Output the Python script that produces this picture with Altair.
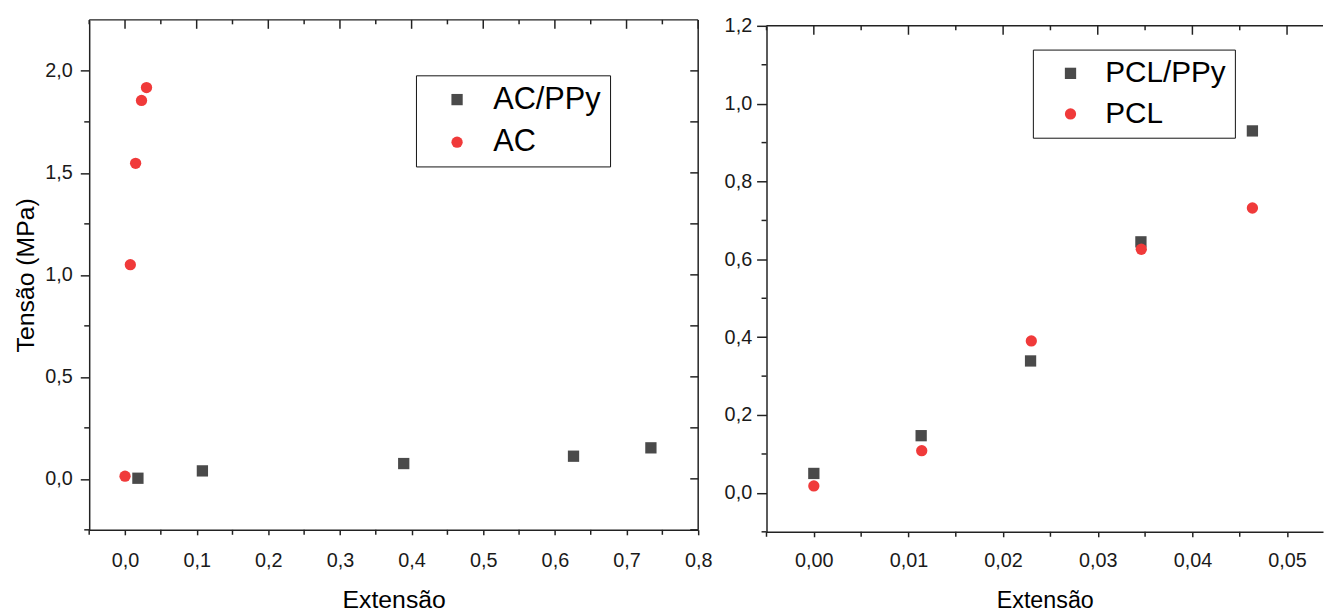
import altair as alt
import pandas as pd

# ---------------- data ----------------
ac_ppy_x = [0.018, 0.108, 0.389, 0.626, 0.734]
ac_ppy_y = [0.003, 0.039, 0.075, 0.111, 0.152]
ac_x = [0.0, 0.0074, 0.0148, 0.023, 0.030]
ac_y = [0.013, 1.050, 1.547, 1.855, 1.918]

pcl_ppy_x = [0.0, 0.01134, 0.0229, 0.03456, 0.04634]
pcl_ppy_y = [0.050, 0.147, 0.339, 0.645, 0.930]
pcl_x = [0.0, 0.0114, 0.02298, 0.0346, 0.04634]
pcl_y = [0.018, 0.1085, 0.3905, 0.626, 0.732]

left_series = ["AC/PPy", "AC"]
right_series = ["PCL/PPy", "PCL"]

left_x_major = [0.0, 0.1, 0.2, 0.3, 0.4, 0.5, 0.6, 0.7, 0.8]
left_x_minor = [-0.05, 0.05, 0.15, 0.25, 0.35, 0.45, 0.55, 0.65, 0.75]
left_y_major = [0.0, 0.5, 1.0, 1.5, 2.0]
left_y_minor = [-0.25, 0.25, 0.75, 1.25, 1.75]

right_x_major = [0.0, 0.01, 0.02, 0.03, 0.04, 0.05]
right_x_minor = [-0.005, 0.005, 0.015, 0.025, 0.035, 0.045]
right_y_major = [0.0, 0.2, 0.4, 0.6, 0.8, 1.0, 1.2]
right_y_minor = [-0.1, 0.1, 0.3, 0.5, 0.7, 0.9, 1.1]

GRAY = "#4a4a4a"
RED = "#f03a3a"
LINE = "#222222"
FONT = "Liberation Sans"


def comma(fmt):
    return f"replace(format(datum.value, '{fmt}'), '.', ',')"


def panel(xs, ys, names, order, xdom, ydom, xmaj, xmin, ymaj, ymin,
          xfmt, yfmt, W, H, top, ytitle, xtitle_size, ytick, ypad, xpad, xtpad,
          leg_x, leg_y, leg_font, sym_off, lab_off, right_frame):
    rows = []
    for sx, sy, nm in zip(xs, ys, names):
        for a, b in zip(sx, sy):
            rows.append({"x": a, "y": b, "s": nm})
    df = pd.DataFrame(rows)

    xscale = alt.Scale(domain=xdom, nice=False, zero=False)
    yscale = alt.Scale(domain=ydom, nice=False, zero=False, range=[H, top])

    leg = dict(title=None, orient="none", legendX=leg_x, legendY=leg_y,
               strokeColor="#111111", padding=9, labelFont=FONT,
               labelFontSize=leg_font, labelColor="#000000", symbolSize=130,
               symbolStrokeWidth=0, symbolOffset=sym_off,
               labelOffset=lab_off, rowPadding=11, symbolOpacity=1)

    yaxis_kwargs = dict(values=ymaj, labelExpr=comma(yfmt), tickSize=ytick,
                        labelPadding=ypad, grid=False, titleFontSize=25,
                        titlePadding=6.5)
    ych = alt.Y("y:Q", scale=yscale, axis=alt.Axis(**yaxis_kwargs),
                title=ytitle) if ytitle else alt.Y(
        "y:Q", scale=yscale, axis=alt.Axis(**yaxis_kwargs), title=None)

    pts = alt.Chart(df).mark_point(filled=True, size=130, opacity=1).encode(
        x=alt.X("x:Q", scale=xscale, title="Extensão",
                axis=alt.Axis(values=xmaj, labelExpr=comma(xfmt), tickSize=5,
                              labelPadding=xpad, grid=False,
                              titleFontSize=xtitle_size, titlePadding=xtpad)),
        y=ych,
        color=alt.Color("s:N", scale=alt.Scale(domain=order, range=[GRAY, RED]),
                        legend=alt.Legend(**leg)),
        shape=alt.Shape("s:N", scale=alt.Scale(domain=order,
                                               range=["square", "circle"]),
                        legend=alt.Legend(**leg)),
    )

    layers = [pts]
    one = pd.DataFrame({"a": [0]})
    # top frame line
    layers.append(alt.Chart(one).mark_rule(color=LINE, strokeWidth=1.5).encode(
        x=alt.value(0), x2=alt.value(W), y=alt.value(top)))
    if right_frame:
        layers.append(alt.Chart(one).mark_rule(color=LINE, strokeWidth=1.5).encode(
            x=alt.value(W), y=alt.value(top), y2=alt.value(H)))

    dxmaj = pd.DataFrame({"x": xmaj})
    dxmin = pd.DataFrame({"x": xmin})
    dymaj = pd.DataFrame({"y": ymaj})
    dymin = pd.DataFrame({"y": ymin})

    def xr(d, y1, y2):
        return alt.Chart(d).mark_rule(color=LINE, strokeWidth=1.5).encode(
            x=alt.X("x:Q", scale=xscale), y=alt.value(y1), y2=alt.value(y2))

    def yr(d, x1, x2):
        return alt.Chart(d).mark_rule(color=LINE, strokeWidth=1.5).encode(
            y=alt.Y("y:Q", scale=yscale), x=alt.value(x1), x2=alt.value(x2))

    # inward top ticks
    layers.append(xr(dxmaj, top, top + 9))
    layers.append(xr(dxmin, top, top + 4.5))
    # outward bottom minor ticks
    layers.append(xr(dxmin, H, H + 5))
    # outward left minor ticks
    layers.append(yr(dymin, 0, -5))
    if right_frame:
        layers.append(yr(dymaj, W, W - 8))
        layers.append(yr(dymin, W, W - 8))

    return alt.layer(*layers).properties(width=W, height=H)


left = panel([ac_ppy_x, ac_x], [ac_ppy_y, ac_y], left_series, left_series,
             [-0.05, 0.8], [-0.25, 2.25], left_x_major, left_x_minor,
             left_y_major, left_y_minor, ".1f", ".1f", 615, 515, 0,
             "Tensão (MPa)", 25, 9, 8, 16, 17, 330, 56, 31, 17, 21, True)

right = panel([pcl_ppy_x, pcl_x], [pcl_ppy_y, pcl_y], right_series, right_series,
              [-0.005, 0.0538], [-0.1, 1.2], right_x_major, right_x_minor,
              right_y_major, right_y_minor, ".2f", ".1f", 562, 517, 6,
              None, 23.5, 10, 5, 14, 18, 269, 30, 30, 14, 20, False)

chart = alt.hconcat(left, right, spacing=12).resolve_scale(
    color="independent", shape="independent", x="independent", y="independent"
).resolve_legend(color="independent", shape="independent").properties(
    padding={"left": 5, "top": 5, "right": 0, "bottom": 0},
    background="white",
).configure_view(strokeWidth=0).configure_axis(
    domainColor=LINE, domainWidth=1.5, tickColor=LINE, tickWidth=1.5,
    labelFont=FONT, labelFontSize=20, labelColor="#1a1a1a",
    titleFont=FONT, titleFontWeight="normal", titleColor="#000000",
    labelFlush=False, labelOverlap=False,
)

chart.save("out.html", embed_options={"renderer": "svg", "actions": False})
